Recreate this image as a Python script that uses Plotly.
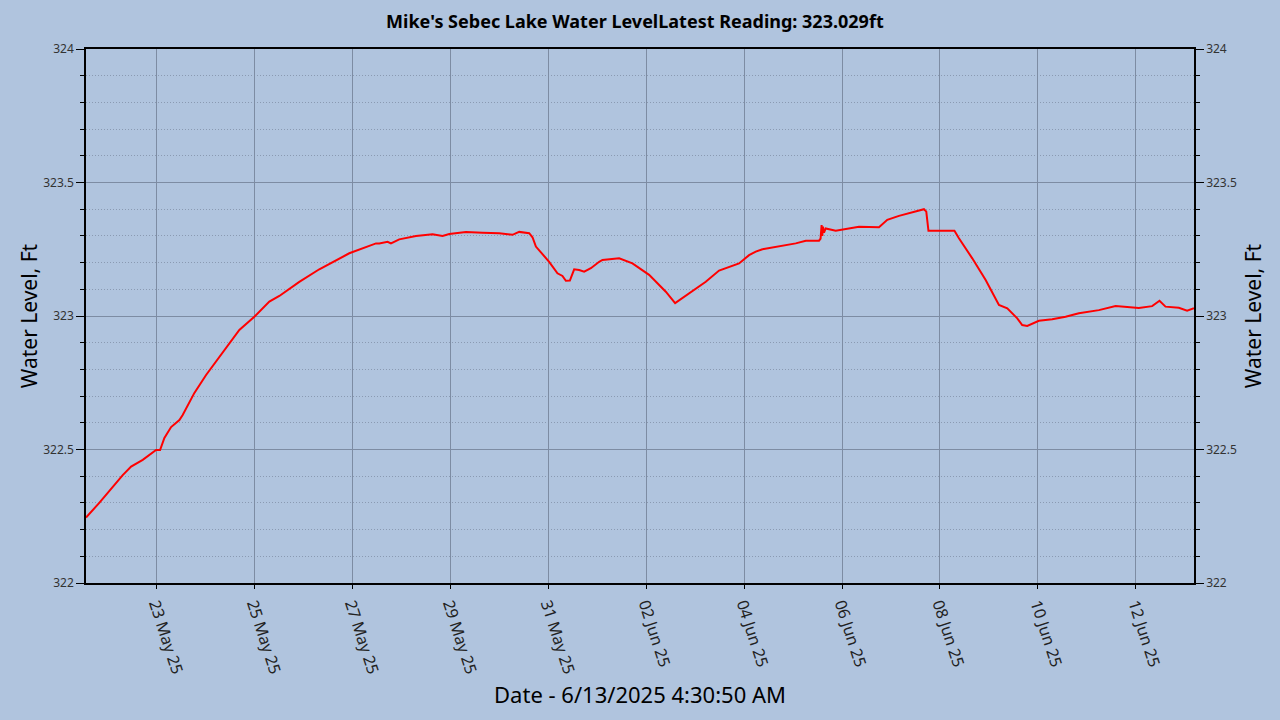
import plotly.graph_objects as go

# water level readings (ft)
dates = [
    "2025-05-21 13:30", "2025-05-21 20:00", "2025-05-22 07:30", "2025-05-22 11:36",
    "2025-05-22 17:18", "2025-05-22 23:50", "2025-05-23 01:48", "2025-05-23 03:55",
    "2025-05-23 07:12", "2025-05-23 11:16", "2025-05-23 12:53", "2025-05-23 18:37",
    "2025-05-24 00:21", "2025-05-24 05:14", "2025-05-24 11:45", "2025-05-24 16:39",
    "2025-05-25 00:00", "2025-05-25 07:21", "2025-05-25 12:15", "2025-05-25 22:02",
    "2025-05-26 07:50", "2025-05-26 14:21", "2025-05-26 22:32", "2025-05-27 11:37",
    "2025-05-27 13:13", "2025-05-27 17:18", "2025-05-27 18:57", "2025-05-27 23:01",
    "2025-05-28 07:12", "2025-05-28 15:20", "2025-05-28 20:14", "2025-05-28 23:31",
    "2025-05-29 07:41", "2025-05-29 15:49", "2025-05-30 00:00", "2025-05-30 06:31",
    "2025-05-30 09:48", "2025-05-30 14:42", "2025-05-30 16:19", "2025-05-30 17:59",
    "2025-05-31 00:29", "2025-05-31 04:33", "2025-05-31 07:00", "2025-05-31 08:40",
    "2025-05-31 10:38", "2025-05-31 12:44", "2025-05-31 15:11", "2025-05-31 17:38",
    "2025-05-31 20:55", "2025-06-01 01:00", "2025-06-01 02:36", "2025-06-01 10:47",
    "2025-06-01 17:18", "2025-06-02 01:28", "2025-06-02 09:39", "2025-06-02 14:13",
    "2025-06-02 21:03", "2025-06-03 05:14", "2025-06-03 11:45", "2025-06-03 17:29",
    "2025-06-03 21:33", "2025-06-04 02:27", "2025-06-04 05:44", "2025-06-04 09:00",
    "2025-06-04 17:09", "2025-06-05 01:20", "2025-06-05 06:14", "2025-06-05 12:44",
    "2025-06-05 13:30", "2025-06-05 14:00", "2025-06-05 14:20", "2025-06-05 14:40",
    "2025-06-05 15:10", "2025-06-05 16:01", "2025-06-05 20:55", "2025-06-06 01:49",
    "2025-06-06 08:19", "2025-06-06 18:07", "2025-06-06 22:11", "2025-06-07 03:55",
    "2025-06-07 10:26", "2025-06-07 16:10", "2025-06-07 17:18", "2025-06-07 18:22",
    "2025-06-08 07:06", "2025-06-08 09:18", "2025-06-08 15:50", "2025-06-08 22:24",
    "2025-06-09 04:54", "2025-06-09 09:00", "2025-06-09 13:53", "2025-06-09 16:19",
    "2025-06-09 18:46", "2025-06-10 00:29", "2025-06-10 07:00", "2025-06-10 13:34",
    "2025-06-10 20:05", "2025-06-11 05:53", "2025-06-11 14:04", "2025-06-11 18:58",
    "2025-06-12 01:28", "2025-06-12 08:00", "2025-06-12 11:36", "2025-06-12 14:32",
    "2025-06-12 21:04", "2025-06-13 01:08", "2025-06-13 04:30",
]
level = [
    322.245, 322.300, 322.404, 322.436,
    322.461, 322.498, 322.498, 322.543,
    322.584, 322.610, 322.629, 322.712,
    322.779, 322.829, 322.898, 322.948,
    322.997, 323.054, 323.075, 323.128,
    323.175, 323.203, 323.235, 323.272,
    323.272, 323.278, 323.272, 323.287,
    323.300, 323.306, 323.300, 323.307,
    323.315, 323.312, 323.310, 323.304,
    323.315, 323.310, 323.295, 323.260,
    323.203, 323.160, 323.150, 323.132,
    323.133, 323.175, 323.172, 323.166,
    323.179, 323.203, 323.210, 323.216,
    323.197, 323.154, 323.091, 323.048,
    323.085, 323.128, 323.170, 323.187,
    323.197, 323.228, 323.241, 323.250,
    323.260, 323.272, 323.282, 323.282,
    323.290, 323.341, 323.300, 323.335,
    323.312, 323.328, 323.319, 323.325,
    323.334, 323.332, 323.360, 323.375,
    323.387, 323.400, 323.391, 323.319,
    323.319, 323.291, 323.216, 323.135,
    323.041, 323.029, 322.991, 322.966,
    322.963, 322.982, 322.988, 322.997,
    323.010, 323.022, 323.037, 323.033,
    323.030, 323.037, 323.057, 323.035,
    323.031, 323.020, 323.029,
]

title_text = "Mike's Sebec Lake Water LevelLatest Reading: 323.029ft"
x_title = "Date - 6/13/2025 4:30:50 AM"
y_title = "Water Level, Ft"

bg = "#B0C4DE"
major_grid = "#7D8CA3"
minor_grid = "#8A9AB2"
font_family = "Noto Sans, Open Sans, sans-serif"

fig = go.Figure()
fig.add_trace(go.Scatter(x=dates, y=level, mode="lines",
                         line=dict(color="#FF0000", width=2),
                         name="level", showlegend=False))
# invisible copy so the right-hand axis gets drawn
fig.add_trace(go.Scatter(x=dates, y=level, mode="lines", yaxis="y2",
                         line=dict(color="rgba(0,0,0,0)", width=0),
                         hoverinfo="skip", showlegend=False))

yaxis_common = dict(
    range=[322, 324], dtick=0.5, tick0=322,
    showline=True, linecolor="black", linewidth=1.5,
    ticks="outside", ticklen=8, tickcolor="black",
    tickfont=dict(size=12, color="#333333", family=font_family),
    zeroline=False,
    minor=dict(dtick=0.1, ticks="outside", ticklen=4, tickcolor="black",
               showgrid=True, gridcolor=minor_grid, griddash="1px,2px", gridwidth=1),
)

fig.update_layout(
    width=1280, height=720,
    paper_bgcolor=bg, plot_bgcolor=bg,
    margin=dict(l=86, r=86, t=49, b=137),
    font=dict(family=font_family, color="black"),
    title=dict(text="<b>" + title_text + "</b>", x=0.496, xanchor="center",
               y=0.970, yanchor="middle", font=dict(size=18, color="black")),
    xaxis=dict(
        type="date",
        range=[dates[0], dates[-1]],
        tick0="2025-05-23", dtick=2 * 86400000, tickformat="%d %b %y",
        tickangle=72,
        tickfont=dict(size=16, color="#222222"),
        showgrid=True, gridcolor=major_grid, gridwidth=1,
        showline=True, linecolor="black", linewidth=1.5, mirror=True,
        ticks="outside", ticklen=4, tickcolor="black", zeroline=False,
        title=dict(text=x_title, font=dict(size=22, color="black"), standoff=12),
    ),
    yaxis=dict(
        **yaxis_common,
        showgrid=True, gridcolor=major_grid, gridwidth=1,
        title=dict(text=y_title, font=dict(size=21, color="black"), standoff=0),
    ),
    yaxis2=dict(
        **yaxis_common,
        overlaying="y", side="right", matches="y",
        showgrid=False,
        title=dict(text=y_title, font=dict(size=21, color="black"), standoff=10),
    ),
)

# drop the page margin so the 1280x720 figure sits flush in the window
fig.write_html("out.html", config={"displayModeBar": False},
               post_script="document.body.style.margin='0';")
